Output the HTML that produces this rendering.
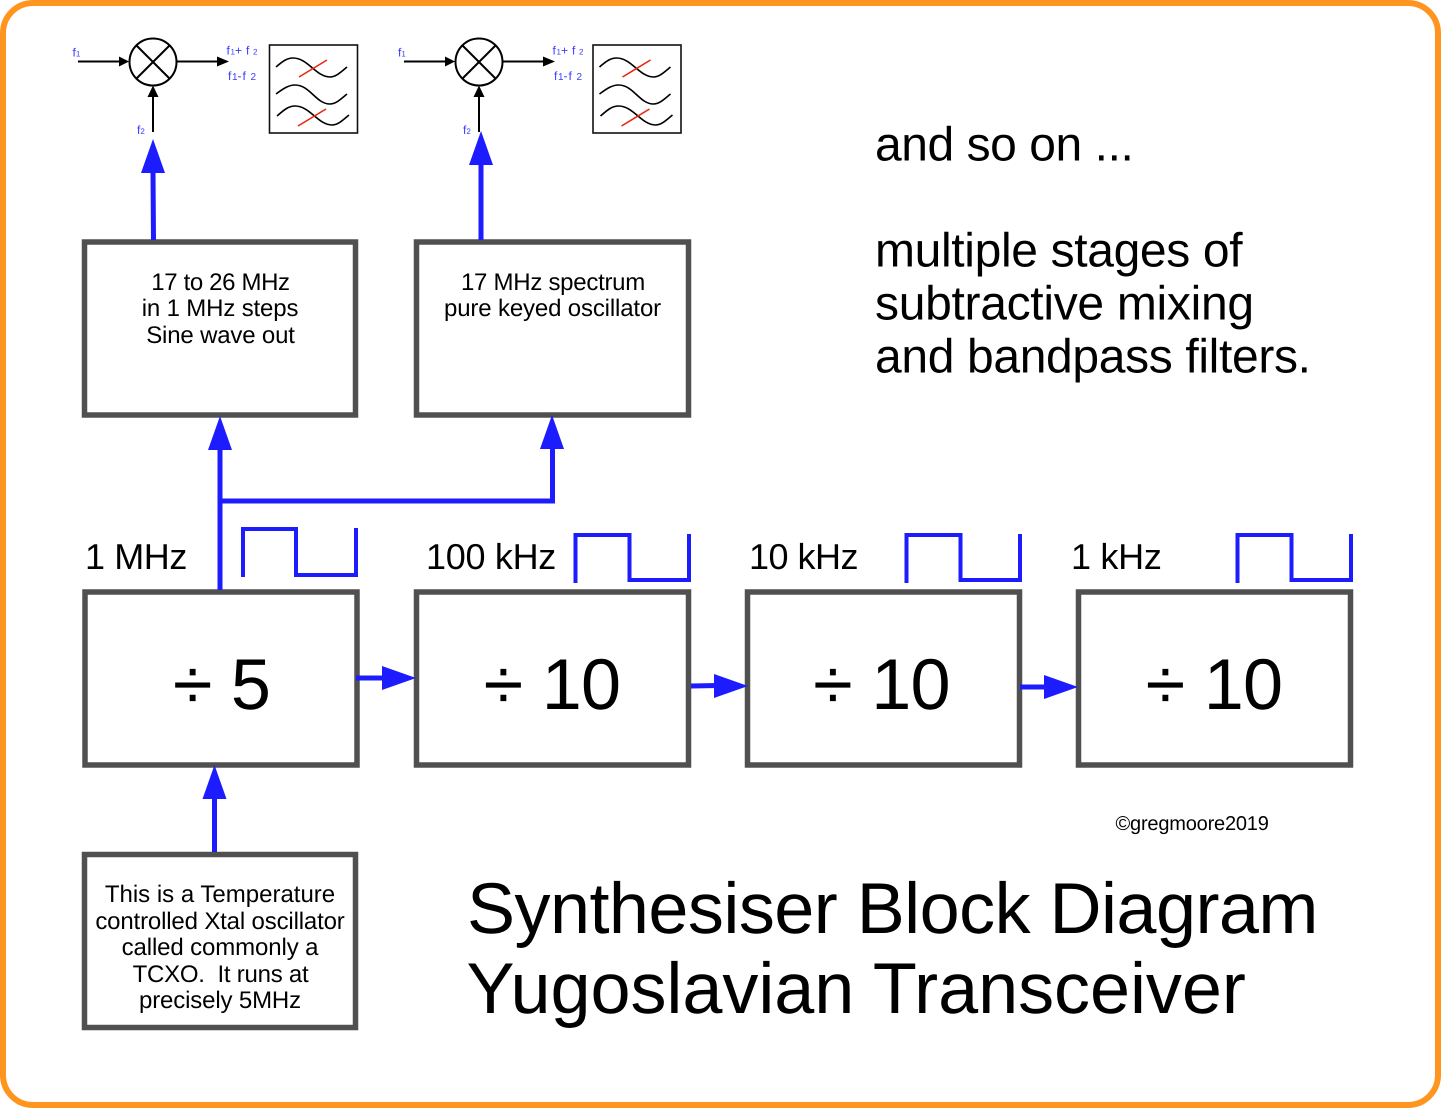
<!DOCTYPE html>
<html><head><meta charset="utf-8"><style>
html,body{margin:0;padding:0;background:#fff}
svg{display:block}
text{font-family:"Liberation Sans",Arial,sans-serif;fill:#000;text-rendering:geometricPrecision}
.b{fill:none;stroke:#505050;stroke-width:5.5}
.bl{fill:none;stroke:#1c1cff;stroke-width:5}
.w{fill:none;stroke:#1c1cff;stroke-width:4}
.k{fill:none;stroke:#000;stroke-width:2}
.c{fill:none;stroke:#000;stroke-width:1.6}
.r{stroke:#e8280f;stroke-width:1.6}
.f{fill:#3a3aff;font-size:12px}
.s{font-size:8px}
</style></head><body>
<svg xmlns="http://www.w3.org/2000/svg" width="1441" height="1108" viewBox="0 0 1441 1108">
<rect x="3" y="3" width="1435" height="1102" rx="30" fill="#fff" stroke="#ff951f" stroke-width="6"/>

<!-- mixer 1 -->
<g id="m1">
<circle cx="153" cy="62" r="23.5" fill="#fff" stroke="#000" stroke-width="2"/>
<path class="k" d="M136.5 45.500L169.500 78.500M169.500 45.500L136.500 78.500"/>
<path class="k" d="M78 61.500H122M177 61.500H220M153 132V92"/>
<path d="M119 56.500L129 61.500L119 66.500ZM217 56.500L229 61.500L217 66.500ZM147.500 97L153 85.500L158.500 97Z" fill="#000"/>
<rect x="269.500" y="45" width="88" height="88" fill="#fff" stroke="#111" stroke-width="1.600"/>
<path class="c" d="M276 67C284 60 288 58 293 58C308 58 316 77 330 77C336 77 341 72 347 67"/>
<path class="c" d="M276 94C284 88 289 85 295 85C310 85 316 104 330 104C336 104 341 99 347 94"/>
<path class="c" d="M277 116C285 109 289 106 295 106C310 106 318 125 332 125C338 125 343 120 349 115"/>
<path class="r" d="M299 77L327 60M298 126L326 109"/>
</g>
<text class="f" x="72.500" y="56.500">f<tspan class="s">1</tspan></text>
<text class="f" x="137" y="134">f<tspan class="s">2</tspan></text>
<text class="f" y="54.500"><tspan x="226.500">f</tspan><tspan class="s" x="230.500">1</tspan><tspan x="235">+</tspan><tspan x="246">f</tspan><tspan class="s" x="253">2</tspan></text>
<text class="f" y="80"><tspan x="228">f</tspan><tspan x="232" font-size="10">1</tspan><tspan x="237.500">-</tspan><tspan x="242.500">f</tspan><tspan x="250.500" font-size="10">2</tspan></text>

<!-- mixer 2 -->
<g transform="translate(326 0)">
<circle cx="153" cy="62" r="23.500" fill="#fff" stroke="#000" stroke-width="2"/>
<path class="k" d="M136.500 45.500L169.500 78.500M169.500 45.500L136.500 78.500"/>
<path class="k" d="M78 61.500H122M177 61.500H220M153 132V92"/>
<path d="M119 56.500L129 61.500L119 66.500ZM217 56.500L229 61.500L217 66.500ZM147.500 97L153 85.500L158.500 97Z" fill="#000"/>
</g>
<g transform="translate(323.500 0)">
<rect x="269.500" y="45" width="88" height="88" fill="#fff" stroke="#111" stroke-width="1.600"/>
<path class="c" d="M276 67C284 60 288 58 293 58C308 58 316 77 330 77C336 77 341 72 347 67"/>
<path class="c" d="M276 94C284 88 289 85 295 85C310 85 316 104 330 104C336 104 341 99 347 94"/>
<path class="c" d="M277 116C285 109 289 106 295 106C310 106 318 125 332 125C338 125 343 120 349 115"/>
<path class="r" d="M299 77L327 60M298 126L326 109"/>
</g>
<text class="f" x="398" y="56.500">f<tspan class="s">1</tspan></text>
<text class="f" x="463" y="134">f<tspan class="s">2</tspan></text>
<text class="f" y="54.500"><tspan x="552.500">f</tspan><tspan class="s" x="556.500">1</tspan><tspan x="561">+</tspan><tspan x="572">f</tspan><tspan class="s" x="579">2</tspan></text>
<text class="f" y="80"><tspan x="554">f</tspan><tspan x="558" font-size="10">1</tspan><tspan x="563.500">-</tspan><tspan x="568.500">f</tspan><tspan x="576.500" font-size="10">2</tspan></text>

<!-- boxes -->
<rect class="b" x="84.500" y="242" width="271" height="173"/>
<rect class="b" x="416.500" y="242" width="272" height="173"/>
<rect class="b" x="85" y="592" width="272" height="173"/>
<rect class="b" x="416.500" y="592" width="272" height="173"/>
<rect class="b" x="747.500" y="592" width="272" height="173"/>
<rect class="b" x="1078.500" y="592" width="272" height="173"/>
<rect class="b" x="84.500" y="854.500" width="271" height="173"/>

<!-- blue connectors -->
<path class="bl" d="M153.500 240L153 172"/>
<path d="M141 173L153 139L165 173Z" fill="#1c1cff"/>
<path class="bl" d="M481 240V164"/>
<path d="M469 165L481 131L493 165Z" fill="#1c1cff"/>
<path class="bl" d="M220 590V448"/>
<path d="M208 450L220 416L232 450Z" fill="#1c1cff"/>
<path class="bl" d="M220 501H552.500V448" stroke-width="4"/>
<path class="bl" d="M552.500 502V448"/>
<path d="M540 449L552 415L564 449Z" fill="#1c1cff"/>
<path class="bl" d="M356 678H385"/>
<path d="M382 666L416 678L382 690Z" fill="#1c1cff"/>
<path class="bl" d="M691 686L718 685.500"/>
<path d="M714 674L748 686L714 698Z" fill="#1c1cff"/>
<path class="bl" d="M1020 687H1048"/>
<path d="M1044 675L1078 687L1044 699Z" fill="#1c1cff"/>
<path class="bl" d="M214.500 852V796"/>
<path d="M202.500 799L214.500 765L226.500 799Z" fill="#1c1cff"/>

<!-- square waves -->
<path class="w" d="M243 577V529H296V575H356M356 528V577"/>
<path class="w" d="M575.500 583V535H629.500V580H689M689 534V582"/>
<path class="w" d="M906.500 583V535H960.500V580H1020M1020 534V582"/>
<path class="w" d="M1237.500 583V535H1291.500V580H1351M1351 534V582"/>

<!-- labels -->
<g font-size="24" text-anchor="middle">
<text x="220.500" y="290" letter-spacing="-.36">17 to 26 MHz</text>
<text x="220" y="316" letter-spacing="-.15">in 1 MHz steps</text>
<text x="220.500" y="343" letter-spacing="-.17">Sine wave out</text>
<text x="553" y="290" letter-spacing="-.27">17 MHz spectrum</text>
<text x="552.500" y="316" letter-spacing="-.15">pure keyed oscillator</text>
<text x="220" y="902">This is a Temperature</text>
<text x="220" y="929" letter-spacing="-.16">controlled Xtal oscillator</text>
<text x="220" y="955" letter-spacing="-.12">called commonly a</text>
<text x="220.500" y="982" letter-spacing="-.25">TCXO.&#160; It runs at</text>
<text x="220" y="1008" letter-spacing="-.15">precisely 5MHz</text>
</g>
<g font-size="36">
<text x="85" y="569" letter-spacing="-.4">1 MHz</text>
<text x="426" y="569" letter-spacing="-.3">100 kHz</text>
<text x="749" y="569" letter-spacing="-.5">10 kHz</text>
<text x="1071" y="569" letter-spacing="-.3">1 kHz</text>
</g>
<g font-size="72" text-anchor="middle">
<text x="221.500" y="709" letter-spacing="-.8">÷ 5</text>
<text x="552" y="709" letter-spacing="-.7">÷ 10</text>
<text x="881.500" y="709" letter-spacing="-.7">÷ 10</text>
<text x="1214" y="709" letter-spacing="-.7">÷ 10</text>
</g>
<g font-size="48">
<text x="875" y="160.500" letter-spacing="-.45">and so on ...</text>
<text x="875" y="266.500" letter-spacing="-.35">multiple stages of</text>
<text x="875" y="319.500" letter-spacing="-.3">subtractive mixing</text>
<text x="875" y="372.500" letter-spacing="-.35">and bandpass filters.</text>
</g>
<text x="1115.500" y="830" font-size="20" letter-spacing="-.2">©gregmoore2019</text>
<g font-size="72">
<text x="467" y="933" letter-spacing="-.54">Synthesiser Block Diagram</text>
<text x="466.500" y="1013" letter-spacing="-.05">Yugoslavian Transceiver</text>
</g>
</svg>
</body></html>
